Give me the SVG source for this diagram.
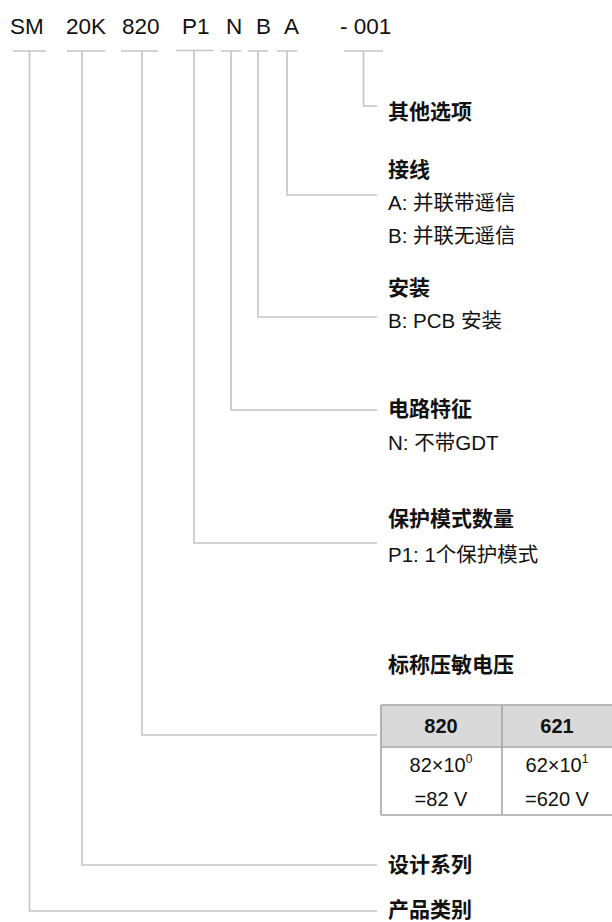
<svg xmlns="http://www.w3.org/2000/svg" width="612" height="922" viewBox="0 0 612 922">
<style>
.code{font-family:"Liberation Sans",Arial,sans-serif;font-size:22.5px;fill:#111}
.t{font-family:"Liberation Sans","Noto Sans CJK SC",sans-serif;font-size:21px;font-weight:bold;fill:#111}
.i{font-family:"Liberation Sans","Noto Sans CJK SC",sans-serif;font-size:20.5px;fill:#111}
.th{font-family:"Liberation Sans",Arial,sans-serif;font-size:20px;font-weight:bold;fill:#111;text-anchor:middle}
.td{font-family:"Liberation Sans",Arial,sans-serif;font-size:20px;fill:#111;text-anchor:middle}
.ln{fill:none;stroke:#c4c4c4;stroke-width:1.6}
.tb{stroke:#a6a6a6;stroke-width:1.6}
</style>
<g id="code">
<text class="code" x="10" y="34">SM</text>
<text class="code" x="66" y="34">20K</text>
<text class="code" x="122" y="34">820</text>
<text class="code" x="182" y="34">P1</text>
<text class="code" x="226" y="34">N</text>
<text class="code" x="256" y="34">B</text>
<text class="code" x="284" y="34">A</text>
<text class="code" x="340" y="34">- 001</text>
</g>
<g id="connectors">
<path class="ln" d="M13 51H46M29.5 51V911H377"/>
<path class="ln" d="M67 51H105M82 51V865H377"/>
<path class="ln" d="M121 51H158M142 51V735H377"/>
<path class="ln" d="M176 50.5H214M194 50.5V543H377"/>
<path class="ln" d="M221 51H241M231 51V410H377"/>
<path class="ln" d="M248 51H268M258 51V317H377"/>
<path class="ln" d="M277 51H297M287 51V195H377"/>
<path class="ln" d="M344 51H383M363.5 51V106H377"/>
</g>
<g id="other">
<text class="t" x="388" y="119">其他选项</text>
</g>
<g id="wiring">
<text class="t" x="388" y="177">接线</text>
<text class="i" x="388" y="210">A: 并联带遥信</text>
<text class="i" x="388" y="243">B: 并联无遥信</text>
</g>
<g id="mounting">
<text class="t" x="388" y="295">安装</text>
<text class="i" x="388" y="328">B: PCB 安装</text>
</g>
<g id="circuit">
<text class="t" x="388" y="416">电路特征</text>
<text class="i" x="388" y="450">N: 不带GDT</text>
</g>
<g id="protection">
<text class="t" x="388" y="526">保护模式数量</text>
<text class="i" x="388" y="562">P1: 1个保护模式</text>
</g>
<g id="voltage">
<text class="t" x="388" y="672">标称压敏电压</text>
<rect x="381" y="705" width="233" height="42" fill="#d9d9d9"/>
<path class="tb" fill="none" d="M381 705H614M381 747H614M381 815H614M381 705V815M502 705V815"/>
<text class="th" x="441" y="733">820</text>
<text class="th" x="557" y="733">621</text>
<text class="td" x="441" y="772">82×10<tspan font-size="12" dy="-9">0</tspan></text>
<text class="td" x="557" y="772">62×10<tspan font-size="12" dy="-9">1</tspan></text>
<text class="td" x="441" y="806">=82 V</text>
<text class="td" x="557" y="806">=620 V</text>
</g>
<g id="series">
<text class="t" x="388" y="872">设计系列</text>
</g>
<g id="category">
<text class="t" x="388" y="917">产品类别</text>
</g>
</svg>
